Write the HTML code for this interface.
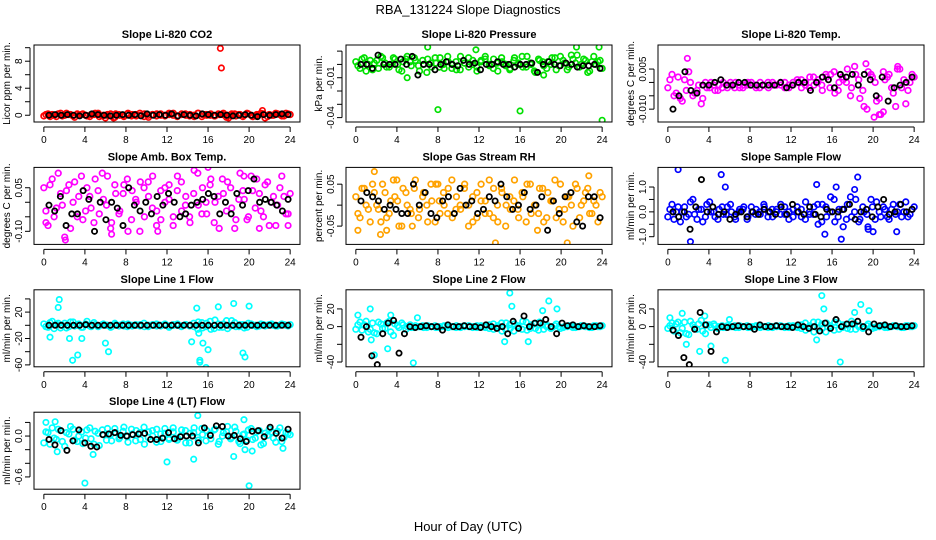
<!DOCTYPE html>
<html><head><meta charset="utf-8"><style>
html,body{margin:0;padding:0;background:#fff;}
svg{display:block;font-family:"Liberation Sans",sans-serif;}
</style></head><body>
<svg id="chart" width="936" height="540" viewBox="0 0 936 540" xmlns="http://www.w3.org/2000/svg">
<rect x="0" y="0" width="936" height="540" fill="#fff"/>
<text x="468" y="14" text-anchor="middle" font-size="13">RBA_131224  Slope Diagnostics</text>
<text x="468" y="531" text-anchor="middle" font-size="13">Hour of Day (UTC)</text>
</svg>
<script>
// ---- data ----
const titles = ["Slope Li-820 CO2","Slope Li-820 Pressure","Slope Li-820 Temp.","Slope Amb. Box Temp.","Slope Gas Stream RH","Slope Sample Flow","Slope Line 1 Flow","Slope Line 2 Flow","Slope Line 3 Flow","Slope Line 4 (LT) Flow"];
const yLabels = ["Licor ppm per min.","kPa per min.","degrees C per min.","degrees C per min.","percent per min.","ml/min per min.","ml/min per min.","ml/min per min.","ml/min per min.","ml/min per min."];
const units = [0.1,0.001,0.001,0.01,0.01,0.1,1,1,1,0.01];
const yMins = [-1.0,-0.0433,-0.0148,-0.145,-0.0936,-1.31,-62.9,-45.4,-45.4,-0.78];
const yMaxs = [10.4,0.0146,0.014,0.12,0.09,1.79,53.8,41.6,41.6,0.35];
const yTicks = [[0,2,4,6,8,10],[0.01,0,-0.01,-0.02,-0.03,-0.04],[0.005,0,-0.005,-0.01],[0.05,0,-0.05,-0.1],[0.05,0,-0.05],[1,0.5,0,-0.5,-1],[40,20,0,-20,-40,-60],[20,0,-20,-40],[20,0,-20,-40],[0.2,0,-0.2,-0.4,-0.6]];
const yTickLabels = [["0","","4","","8",""],["","","-0.01","","","-0.04"],["0.005","","","-0.010"],["0.05","","","-0.10"],["0.05","","-0.05"],["1.0","","0.0","","-1.0"],["","20","","-20","","-60"],["20","0","","-40"],["20","0","","-40"],["","0.0","","","-0.6"]];
const colors = ["#ff0000","#00e000","#ff00ff","#ff00ff","#ffa200","#0000ff","#00ffff","#00ffff","#00ffff","#00ffff"];
const xTicks = [0,4,8,12,16,20,24];

const colored0 = [-1,2,1,-2,3,0,1,-1,2,1,0,-2,1,3,-1,0,2,-3,1,0,2,-1,1,3,-2,0,1,-1,2,0,1,3,-1,2,0,1,-2,3,1,0,2,-1,1,3,0,2,-1,1,0,2,-2,1,3,-4,1,0,2,-1,3,1];
const colored1 = [2,-3,5,0,-4,3,6,1,-2,5,0,-5,4,2,5,-1,3,-6,1,5,-2,0,6,-3,2,-4,1,5,0,-2,3,6,-1,4,-5,2,0,-3,5,1,-2,6,0,-6,3,-1,2,5,-4,6,1,-2,4,7,0,3,-5,6,2,-3];
const colored2 = [-2,3,-4,-6,1,4,-5,-3,-8,0,-2,-1,-3,-2,-1,0,-2,-1,-2,-1,0,-1,-2,-1,0,-1,-1,0,-2,-1,0,1,-2,0,2,-1,1,-3,2,3,-4,0,1,5,-2,3,-6,-9,4,2,-7,-12,1,3,-4,5,-2,-8,0,2];
const colored3 = [5,-8,8,-2,3,-12,6,0,-5,9,-3,2,-7,4,10,-1,-9,6,-4,3,8,-6,1,-10,5,7,-2,-8,4,0,6,-5,9,-3,2,-7,11,-1,5,-4,8,0,-9,3,7,-2,-6,10,1,-5,4,8,-3,6,-8,2,-1,9,-4,3];
const colored4 = [2,-3,4,-1,5,0,-4,3,-2,6,1,-5,3,-1,4,-3,2,0,5,-4,1,3,-2,6,-1,0,4,-5,2,-3,5,1,-2,4,-4,3,0,-1,6,-3,2,5,-2,0,4,-4,3,1,-3,5,-1,2,-5,4,0,3,-2,1,-4,2];
const colored5 = [-2,3,0,-4,2,-1,5,-3,1,-2,4,0,-3,2,-1,3,-2,0,1,-3,2,-1,0,3,-2,1,0,-1,2,-3,1,0,-2,4,-1,2,-5,3,-2,6,-4,1,-6,3,-2,5,-3,0,-7,2,4,-2,1,-3,3,0,-2,4,-1,2];
const colored6 = [2,-3,6,1,-4,3,-2,5,0,-3,2,-1,4,-2,1,0,-3,3,-1,2,-2,0,1,-1,3,-2,0,2,-1,1,-3,0,2,-1,1,0,-2,5,-4,3,-6,8,-3,2,-5,7,-2,1,-4,3,0,-2,2,-1,1,0,-1,2,0,1];
const colored7 = [-3,5,2,-6,4,-8,3,-2,6,-10,1,4,-3,2,-1,0,1,-1,0,1,-1,0,1,0,-1,0,1,0,-1,1,0,-1,2,-3,1,-5,4,-2,3,-1,6,-4,2,-2,5,-3,1,-1,3,-2,0,1,-1,0,1,0,-1,1,0,1];
const colored8 = [-2,4,3,-7,5,-9,2,-3,7,-8,2,3,-2,1,-1,0,1,-1,0,1,-1,0,1,0,-1,0,1,0,-1,1,0,-1,2,-4,1,-6,5,-2,4,-1,5,-3,2,-2,6,-3,1,-1,3,-2,0,1,-1,0,1,0,-1,1,0,1];
const colored9 = [-10,5,12,-5,8,-15,3,10,-8,6,-3,12,-12,4,9,-6,2,11,-4,7,-1,10,-7,5,13,-2,8,-9,3,11,-5,6,-3,9,-10,4,12,-6,2,8,-4,10,-8,5,14,-2,7,-11,3,9,-5,6,-13,4,10,-3,7,-8,5,2];

const coloredB0 = [1,-2,0,2,-1,3,1,-3,0,2,-1,1,3,-2,0,1,-1,2,0,-2,3,1,-1,0,2,-3,1,2,0,-1,3,0,-2,1,2,-1,0,3,-2,1,0,-1,2,1,-3,0,2,1,-2,3,0,-1,1,2,-2,0,3,1,-1,2];
const coloredB1 = [-1,4,-5,3,1,-3,5,-2,0,4,-4,2,6,-1,3,-5,0,4,-2,1,5,-3,2,0,-4,6,1,-2,3,-5,2,4,0,-3,1,5,-1,-4,3,0,6,-2,1,-5,4,2,-3,0,5,-1,3,-4,7,1,-2,4,-6,2,0,3];
const coloredB2 = [1,-5,2,-7,-3,0,-4,-1,-6,-2,0,-3,-1,0,-2,-1,0,-2,-1,0,-1,-2,0,-1,-2,0,-1,-1,0,-2,-1,0,1,-1,-2,2,0,-1,3,-2,4,-3,2,0,-5,6,1,-3,-10,3,0,-6,4,2,-2,-9,5,1,-3,3];
const coloredB3 = [-3,6,-5,10,-1,4,-9,7,2,-6,5,-2,8,-4,1,9,-7,3,-3,6,-10,4,0,7,-5,2,9,-3,-6,5,1,-8,4,7,-1,-5,3,10,-4,0,6,-7,2,8,-3,5,-9,1,4,-6,9,-2,3,-5,7,0,-8,5,2,-4];
const coloredB4 = [-2,4,0,-4,3,-1,5,-3,1,2,-5,4,0,-2,6,-1,3,-4,1,5,-2,0,4,-3,2,-1,5,0,-4,3,1,-2,6,-3,0,4,-5,2,1,-1,3,-4,5,0,-2,4,-3,1,6,-1,-4,2,0,5,-3,1,4,-2,0,3];
const coloredB5 = [1,-3,2,0,-2,4,-1,1,-4,3,0,-2,1,-1,2,0,-3,1,2,-2,0,1,-1,2,0,-2,1,3,-1,0,-2,2,1,-3,0,-1,3,-4,2,0,5,-2,1,-3,6,0,-4,2,-1,5,-3,0,2,-2,1,-1,3,0,-2,1];
const coloredB6 = [-2,4,-5,3,0,-4,5,-1,2,-3,6,-2,1,-1,2,0,-2,1,0,-1,2,-1,0,1,-2,0,1,-1,0,2,-1,1,0,-2,1,-1,3,-6,4,-2,6,-5,2,-3,7,-1,4,-2,1,-3,2,0,-1,1,0,2,-1,0,1,-1];
const coloredB7 = [2,-4,6,-3,-7,5,-2,4,-6,3,-1,2,0,-1,1,0,-1,1,0,-1,0,1,-1,0,1,-1,0,1,0,-1,1,0,-2,3,-1,4,-3,2,-5,1,-3,5,-2,3,-4,2,0,-2,1,0,-1,0,1,-1,0,1,0,-1,1,0];
const coloredB8 = [1,-5,5,-2,-8,6,-1,3,-5,2,-1,1,0,-1,1,0,-1,1,0,-1,0,1,-1,0,1,-1,0,1,0,-1,1,0,-2,4,-1,5,-2,3,-6,1,-4,4,-1,2,-3,3,0,-2,1,0,-1,0,1,-1,0,1,0,-1,1,0];
const coloredB9 = [6,-12,-3,10,-8,5,14,-6,0,-11,9,-4,7,-14,2,11,-7,5,-2,13,-9,3,8,-5,-12,6,0,10,-8,4,-3,12,-6,1,8,-10,5,-2,11,-7,3,9,-12,0,6,-4,13,-8,2,-6,11,-3,8,-11,1,6,-9,12,-2,4];

const black0 = [0,1,0,1,0,-1,0,2,1,0,-1,0,1,0,1,-1,2,0,1,0,2,-1,1,0,-1,2,1,0,1,0,-1,0,1,0,-2,1,0,1,2,1];
const black1 = [0,0,-3,7,0,0,0,4,0,6,-8,0,0,-4,0,2,0,-1,3,0,1,-4,0,0,2,0,0,-2,0,0,1,-6,0,2,0,-1,1,0,-2,-1,-1,0,-3];
const black2 = [-10,-5,4,-3,-4,-1,-1,0,1,-1,-1,0,0,-1,-1,-1,-1,-1,0,-2,-1,0,0,-3,0,2,1,-2,3,2,3,-1,3,1,-5,2,-7,-2,-1,0,2];
const black3 = [-1,-3,2,-8,-4,-4,4,1,-10,0,-6,0,-2,-8,5,-1,-3,0,-4,2,-1,3,0,-5,-4,-1,0,1,3,2,-4,0,-4,3,-1,4,8,0,1,0,-1,-3,1];
const black4 = [1,3,2,1,-1,0,-1,-2,-2,5,0,3,-2,-3,1,2,-2,4,0,1,-2,-1,2,1,5,2,-1,0,3,-1,0,2,-6,1,-2,2,3,-4,-5,2,2,-3];
const black5 = [0,-2,0,-7,2,13,0,2,-1,0,-3,-1,0,-2,0,-1,1,0,-1,2,-1,3,0,-1,2,-1,-2,1,0,0,1,3,-3,0,1,-2,2,5,-1,0,3,0,1];
const black6 = [0,0,0,0,0,0,1,0,0,0,0,0,0,0,0,0,0,0,0,0,0,0,0,0,0,0,0,0,0,0,0,0,0,0,0,0,0,0,0,0];
const black7 = [-12,0,-33,-43,-8,4,7,-30,-8,0,-1,0,1,0,0,-4,2,0,0,1,0,0,-1,2,0,-2,0,-8,6,-2,12,0,4,4,8,0,-8,4,1,2,0,1,0,0,1];
const black8 = [-4,-10,-35,-43,-3,16,2,-28,-6,0,-1,0,1,0,0,-3,2,0,0,1,0,0,-1,2,0,-2,0,-5,4,-2,8,0,3,3,6,0,-6,3,1,2,0,1,0,0,1];
const black9 = [-5,-13,8,-21,-7,9,-10,-15,-16,2,3,5,1,0,2,3,4,-5,-5,-3,5,-4,-1,0,0,-10,12,1,15,14,0,1,-4,-8,7,8,-1,13,4,-3,10];

const outX0 = [6,6.8,17.2,17.3,18,21.3];
const outY0 = [-4,-4,99,70,-4,7];
const outX1 = [8,16,24,5,18.3,7,11.7,21.5,23.7];
const outY1 = [-34,-35,-42,-10,-8,13,11,13,13];
const outX2 = [1.9,19.3,22.4,20.1,20.6,21];
const outY2 = [9,7,6,-13,-12,-11];
const outX3 = [0.2,2.1,16,19.5,21,23.8,6.6,11.1];
const outY3 = [-7,-13,12,9,-9,-8,-11,-10];
const outX4 = [0.2,2.4,3,13.6,17.7,20.6,22.7,4,8,5.5,1.8];
const outY4 = [-6,-7,-6,-9,-6,-9,7,6,5,-5,8];
const outX5 = [1,2.2,5.2,5.6,14.5,15.3,16.4,16.9,18.2,18.5,19.5,20,22.3];
const outY5 = [17,-12,15,10,11,-9,10,-11,9,14,-6,-8,-8];
const outX6 = [0.6,1.4,1.5,2.5,2.8,3.3,3.7,6,6.3,14.4,14.9,15.2,15.5,15.8,16,17,18.5,19.4,19.6,20,15.1,15.2];
const outY6 = [-18,27,39,-20,-53,-45,-20,-27,-40,-25,26,-53,-27,-64,-37,28,33,-42,-48,29,-12,-56];
const outX7 = [0.2,1.4,1.5,1.8,3.1,3.4,5.6,6,14.5,15,15.2,16.8,18.2,18.8,19.6];
const outY7 = [13,20,-15,-32,-25,13,-41,10,-17,38,23,-17,18,29,20];
const outX8 = [0.2,1.4,1.8,3.1,3.6,5.6,6,14.5,15,15.2,16.8,18.2,18.8,19.6,4.2];
const outY8 = [10,15,-20,-28,12,-38,8,-15,35,20,-40,16,25,18,-22];
const outX9 = [0.2,1.1,1.3,4,4.8,12,14.6,15,18.5,19.5,19.6,20,20.3,23.3];
const outY9 = [20,21,-23,-69,-27,-38,-34,30,-30,24,-20,-73,-22,-18];

const coloredSets = [colored0,colored1,colored2,colored3,colored4,colored5,colored6,colored7,colored8,colored9];
const coloredBSets = [coloredB0,coloredB1,coloredB2,coloredB3,coloredB4,coloredB5,coloredB6,coloredB7,coloredB8,coloredB9];
const blackSets = [black0,black1,black2,black3,black4,black5,black6,black7,black8,black9];
const outXs = [outX0,outX1,outX2,outX3,outX4,outX5,outX6,outX7,outX8,outX9];
const outYs = [outY0,outY1,outY2,outY3,outY4,outY5,outY6,outY7,outY8,outY9];

// ---- drawing ----
const NS = "http://www.w3.org/2000/svg";
const svg = document.getElementById("chart");
function mk(tag, attrs, parent){
  const e = document.createElementNS(NS, tag);
  for (const k in attrs) e.setAttribute(k, attrs[k]);
  (parent||svg).appendChild(e);
  return e;
}
const BOX_W = 266, BOX_H = 77;
for (let p = 0; p < 10; p++) {
  const col = p % 3, row = Math.floor(p / 3);
  const bx = 34 + 312 * col, by = 45 + 122.4 * row;
  const g = mk("g", {});
  
  
  const xScale = v => bx + (v + 0.96) / 25.92 * BOX_W;
  const yScale = v => by + (yMaxs[p] - v) / (yMaxs[p] - yMins[p]) * BOX_H;
  const t = mk("text", {x: bx + BOX_W / 2, y: by - 7, "text-anchor": "middle", "font-size": 11, "font-weight": "bold"}, g);
  t.textContent = titles[p];
  
  
  const yl = mk("text", {x: 0, y: 0, transform: `translate(${bx - 24},${by + BOX_H / 2}) rotate(-90)`, "text-anchor": "middle", "font-size": 10}, g);
  yl.textContent = yLabels[p];
  
  
  const xa = mk("g", {stroke: "#000", "stroke-width": 1}, g);
  
  
  mk("line", {x1: xScale(xTicks[0]), x2: xScale(xTicks[xTicks.length - 1]), y1: by + BOX_H + 5, y2: by + BOX_H + 5}, xa);
  xTicks.forEach(v => {
    mk("line", {x1: xScale(v), x2: xScale(v), y1: by + BOX_H + 5, y2: by + BOX_H + 10}, xa);
    const tl = mk("text", {x: xScale(v), y: by + BOX_H + 21, "text-anchor": "middle", "font-size": 10, stroke: "none"}, xa);
    tl.textContent = v;
    
    
  });
  const ya = mk("g", {stroke: "#000", "stroke-width": 1}, g);
  
  
  const ytk = yTicks[p];
  mk("line", {x1: bx - 4, x2: bx - 4, y1: yScale(ytk[0]), y2: yScale(ytk[ytk.length - 1])}, ya);
  ytk.forEach((v, i) => {
    mk("line", {x1: bx - 4, x2: bx - 9, y1: yScale(v), y2: yScale(v)}, ya);
    const lab = yTickLabels[p][i];
    if (lab) {
      const tl = mk("text", {x: 0, y: 0, transform: `translate(${bx - 12},${yScale(v)}) rotate(-90)`, "text-anchor": "middle", "font-size": 10, stroke: "none"}, ya);
      tl.textContent = lab;
      
      
    }
  });
  const cp = mk("clipPath", {id: "clip" + p}, g);
  mk("rect", {x: bx, y: by, width: BOX_W, height: BOX_H}, cp);
  const pts = mk("g", {"clip-path": `url(#clip${p})`, fill: "none"}, g);
  
  
  const cs = coloredSets[p];
  cs.forEach((v, i) => {
    const c = mk("circle", {cx: xScale(i * 24 / (cs.length - 1)), cy: yScale(v * units[p]), r: 2.8, stroke: colors[p], "stroke-width": 1.7}, pts);
    
    
  });
  const cb = coloredBSets[p];
  cb.forEach((v, i) => {
    const c = mk("circle", {cx: xScale(0.2 + i * 23.6 / (cb.length - 1)), cy: yScale(v * units[p]), r: 2.8, stroke: colors[p], "stroke-width": 1.7}, pts);
    
    
  });
  outXs[p].forEach((x, i) => {
    const c = mk("circle", {cx: xScale(x), cy: yScale(outYs[p][i] * units[p]), r: 2.7, stroke: colors[p], "stroke-width": 1.7}, pts);
    
    
  });
  const bs = blackSets[p];
  bs.forEach((v, i) => {
    const c = mk("circle", {cx: xScale(0.5 + i * 23.3 / (bs.length - 1)), cy: yScale(v * units[p]), r: 2.6, stroke: "#000", "stroke-width": 1.8}, pts);
    
    
  });
  const box = mk("rect", {x: bx, y: by, width: BOX_W, height: BOX_H, fill: "none", stroke: "#000", "stroke-width": 1}, g);
  
  
}
</script>
</body></html>
